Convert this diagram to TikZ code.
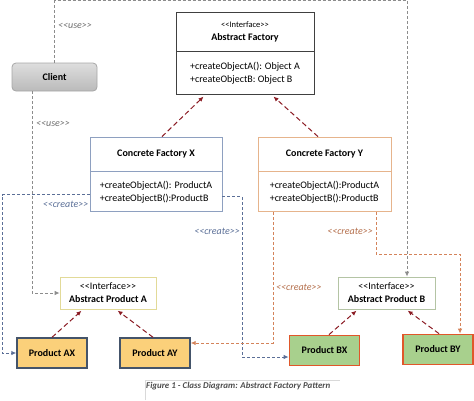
\documentclass[tikz,border=0pt]{standalone}
\usepackage{fontspec}
\setmainfont{Carlito}
\usetikzlibrary{arrows.meta, positioning}

\definecolor{inhred}{HTML}{8B1C24}
\definecolor{xblue}{HTML}{5B6F97}
\definecolor{yorange}{HTML}{D4835A}
\definecolor{usegray}{HTML}{8C8C8C}
\definecolor{xborder}{HTML}{8EA0C0}
\definecolor{yborder}{HTML}{E6B48C}
\definecolor{aborder}{HTML}{E2DA98}
\definecolor{bborder}{HTML}{B4C4A4}
\definecolor{afill}{HTML}{FBD07A}
\definecolor{aedge}{HTML}{44546A}
\definecolor{bfill}{HTML}{A8D08D}
\definecolor{bedge}{HTML}{E0572A}

\newcommand{\stereo}[1]{<\kern0pt<#1>\kern0pt>}

\begin{document}
\begin{tikzpicture}[x=1pt, y=-1pt, font=\fontsize{10}{13}\selectfont]
    % Define styles for boxes and lines
    \tikzset{
        box/.style={draw, rectangle, inner sep=0pt, align=center, line width=0.8pt},
        members/.style={box, align=left},
        product/.style={box, minimum width=70pt, minimum height=30pt, line width=1.4pt, font=\fontsize{10}{13}\selectfont\bfseries},
        inherit/.style={draw=inhred, line width=1pt, dash pattern=on 5pt off 3pt, shorten >=2pt, -{Latex[length=5pt, width=4.5pt]}},
        link/.style={line width=0.9pt, dash pattern=on 3pt off 2pt, -{Latex[length=5pt, width=4.5pt]}},
        tag/.style={font=\fontsize{10}{12}\selectfont\itshape, inner sep=1pt}
    }
    \useasboundingbox (0,0) rectangle (474,400);

    % ABSTRACT FACTORY (interface)
    \node[box, draw=black!75, minimum width=138pt, minimum height=39pt] (af-head) at (245,31.5)
        {{\fontsize{8.5}{10}\selectfont\stereo{Interface}}\\ \textbf{Abstract Factory}};
    \node[members, draw=black!75, minimum width=138pt, minimum height=43pt, below=0pt of af-head] (af-body)
        {+createObjectA(): Object A\\ +createObjectB: Object B};

    % CLIENT
    \node[box, draw=black!35, rounded corners=4pt, top color=black!13, bottom color=black!27,
          minimum width=85pt, minimum height=28pt, font=\fontsize{10}{13}\selectfont\bfseries] (client) at (54.5,77) {Client};

    % CONCRETE FACTORIES
    \node[box, draw=xborder, minimum width=132pt, minimum height=34pt] (cfx-head) at (156,154) {\textbf{Concrete Factory X}};
    \node[members, draw=xborder, minimum width=132pt, minimum height=40pt, below=0pt of cfx-head] (cfx-body)
        {+createObjectA(): ProductA\\ +createObjectB():ProductB};
    \node[box, draw=yborder, minimum width=133pt, minimum height=34pt] (cfy-head) at (324.5,154) {\textbf{Concrete Factory Y}};
    \node[members, draw=yborder, minimum width=133pt, minimum height=40pt, below=0pt of cfy-head] (cfy-body)
        {+createObjectA():ProductA\\ +createObjectB():ProductB};

    % ABSTRACT PRODUCTS
    \node[box, draw=aborder, minimum width=96pt, minimum height=32pt] (apa) at (108,293)
        {\stereo{Interface}\\ \textbf{Abstract Product A}};
    \node[box, draw=bborder, minimum width=97pt, minimum height=32pt] (apb) at (386.5,293)
        {\stereo{Interface}\\ \textbf{Abstract Product B}};

    % CONCRETE PRODUCTS
    \node[product, draw=aedge, fill=afill] (ax) at (52,353) {Product AX};
    \node[product, draw=aedge, fill=afill] (ay) at (155,353) {Product AY};
    \node[product, draw=bedge, fill=bfill, line width=1.8pt] (bx) at (324.5,350.5) {Product BX};
    \node[product, draw=bedge, fill=bfill, line width=1.8pt] (by) at (438,349.5) {Product BY};

    % Inheritance arrows
    \draw[inherit] ([xshift=6pt]cfx-head.north) -- ([xshift=-40pt]af-body.south);
    \draw[inherit] ([xshift=-6.5pt]cfy-head.north) -- ([xshift=27pt]af-body.south);
    \draw[inherit] (ax.north) -- ([xshift=-25pt]apa.south);
    \draw[inherit] ([xshift=-2pt]ay.north) -- ([xshift=8pt]apa.south);
    \draw[inherit] ([xshift=4.5pt]bx.north) -- ([xshift=-28.5pt]apb.south);
    \draw[inherit] ([xshift=1pt]by.north) -- ([xshift=19.5pt]apb.south);

    % Ends and bends of the dependency lines
    \coordinate (cfx-out-l) at ([yshift=-3pt]cfx-body.west);
    \coordinate (cfx-out-r) at ([yshift=-5pt]cfx-body.east);
    \coordinate (left-rail) at (2,0);
    \coordinate (mid-rail) at (242,0);
    \coordinate (bx-in) at ([yshift=-6.5pt]bx.west);
    \coordinate (ay-in) at ([yshift=10pt]ay.east);
    \coordinate (cfy-out-l) at ([xshift=-51.5pt]cfy-body.south);
    \coordinate (cfy-out-r) at ([xshift=51.5pt]cfy-body.south);
    \coordinate (by-in) at ([xshift=22pt]by.north);
    \coordinate (apb-in) at ([xshift=20.5pt]apb.north);
    \coordinate (client-out) at ([xshift=-22.5pt]client.south);

    % <<use>> lines
    \draw[link, usegray] (client.north) -- ++(0,-62) -| (apb-in);
    \draw[link, usegray] (client-out) |- (apa.west);
    \node[tag, usegray!80!black, anchor=west] (use-top) at (57,26) {\stereo{use}};
    \node[tag, usegray!80!black, anchor=west] (use-low) at (35,124) {\stereo{use}};

    % <<create>> lines from Concrete Factory X
    \draw[link, xblue] (cfx-out-l) -| (left-rail |- ax.west) -- (ax.west);
    \draw[link, xblue] (cfx-out-r) -| (mid-rail |- bx-in) -- (bx-in);
    \node[tag, xblue, anchor=east] (create-xa) at (89.5,204) {\stereo{create}};
    \node[tag, xblue, anchor=east] (create-xb) at (241,231) {\stereo{create}};

    % <<create>> lines from Concrete Factory Y
    \draw[link, yorange] (cfy-out-l) |- (ay-in);
    \draw[link, yorange] (cfy-out-r) -- ++(0,42) -| (by-in);
    \node[tag, yorange!85!black, anchor=west] (create-ya) at (275,287) {\stereo{create}};
    \node[tag, yorange!85!black, anchor=east] (create-yb) at (374,231) {\stereo{create}};

    % Caption
    \draw[black!15, line width=0.6pt] (145,400) |- (340,380);
    \node[anchor=west, inner sep=0pt, text=black!70, font=\fontsize{8.9}{10}\selectfont\bfseries\itshape] (caption) at (146,386)
        {Figure 1 - Class Diagram: Abstract Factory Pattern};

\end{tikzpicture}
\end{document}
